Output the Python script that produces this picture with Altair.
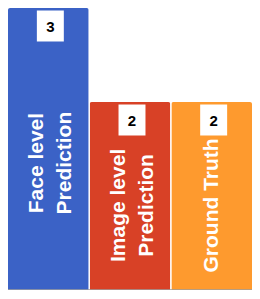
import altair as alt
import pandas as pd

categories = ["Face level Prediction", "Image level Prediction", "Ground Truth"]
label_line1 = ["Face level", "Image level", "Ground Truth"]
label_line2 = ["Prediction", "Prediction", ""]
values = [3, 2, 2]
colors = ["#3b62c6", "#d84126", "#fe9a2e"]
grid_values = [0, 1.5, 3]

df = pd.DataFrame({
    "category": categories, "line1": label_line1, "line2": label_line2, "value": values,
})

x_enc = alt.X(
    "category:N",
    sort=categories,
    axis=None,
    scale=alt.Scale(paddingInner=0.012, paddingOuter=0),
)
y_scale = alt.Scale(domain=[0, 3], nice=False)

base = alt.Chart(df)

bars = base.mark_bar(cornerRadiusTopLeft=2, cornerRadiusTopRight=2).encode(
    x=x_enc,
    y=alt.Y(
        "value:Q",
        scale=y_scale,
        axis=alt.Axis(
            values=grid_values, grid=True, gridColor="#e3e3e3", gridWidth=1,
            labels=False, ticks=False, domain=False, title=None,
        ),
    ),
    color=alt.Color("category:N", scale=alt.Scale(domain=categories, range=colors), legend=None),
)

baseline = alt.Chart(pd.DataFrame({"v": [0]})).mark_rule(color="#9e9e9e", strokeWidth=1.5).encode(
    y=alt.Y("v:Q", scale=y_scale, axis=None)
)

boxes = base.mark_point(
    shape="M-0.87,-1L0.87,-1L0.87,1L-0.87,1Z",
    size=961, filled=True, color="white", opacity=1, yOffset=18, xOffset=2,
).encode(x=x_enc, y=alt.Y("value:Q", scale=y_scale, axis=None))

numbers = base.mark_text(
    fontSize=15, fontWeight="bold", color="black", font="Liberation Sans",
    baseline="middle", align="center", yOffset=19, xOffset=2,
).encode(x=x_enc, y=alt.Y("value:Q", scale=y_scale, axis=None), text="value:Q")

label_style = dict(
    angle=270, align="center", baseline="middle", fontSize=21, fontWeight="bold",
    color="white", font="Liberation Sans",
)
lbl = base.transform_calculate(ly="datum.value*0.45")
two = lbl.transform_filter("datum.line2 != ''")
one = lbl.transform_filter("datum.line2 == ''")
y_lbl = alt.Y("ly:Q", scale=y_scale, axis=None)

two_a = two.mark_text(xOffset=-11, **label_style).encode(x=x_enc, y=y_lbl, text="line1:N")
two_b = two.mark_text(xOffset=17, **label_style).encode(x=x_enc, y=y_lbl, text="line2:N")
one_a = one.mark_text(xOffset=0, **label_style).encode(x=x_enc, y=y_lbl, text="line1:N")

chart = alt.layer(bars, baseline, boxes, numbers, two_a, two_b, one_a).properties(
    width=244, height=282, padding=0,
    autosize=alt.AutoSizeParams(type="none"),
).configure_view(stroke=None)

chart.save("out.html", embed_options={"renderer": "svg", "actions": False})
